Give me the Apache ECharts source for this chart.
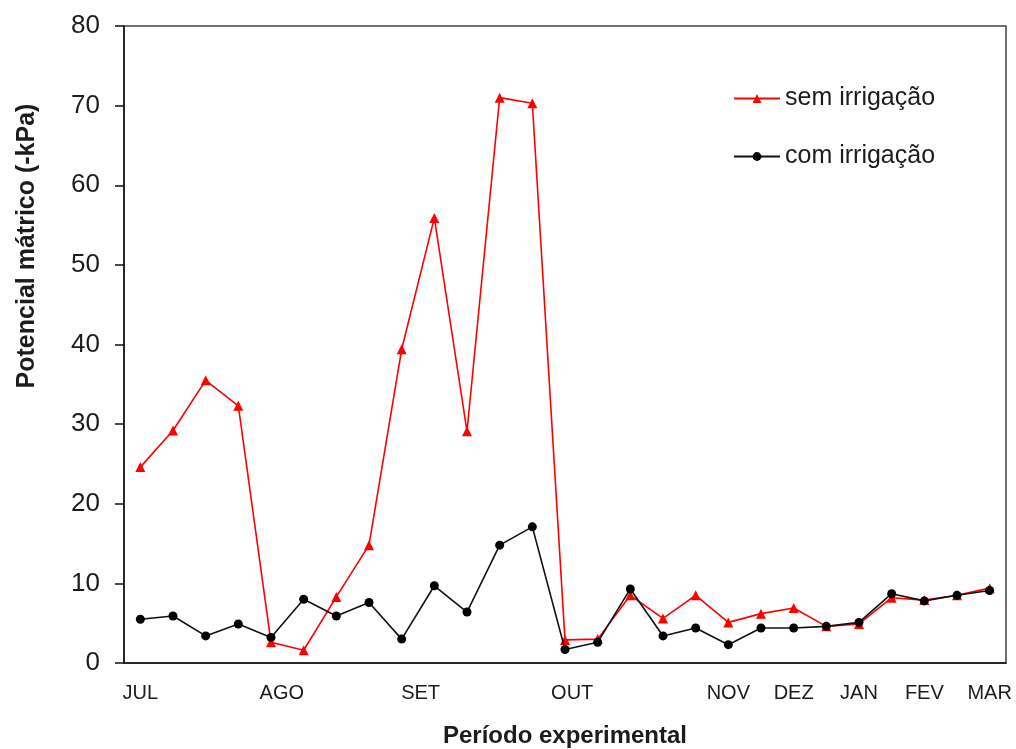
<!DOCTYPE html>
<html>
<head>
<meta charset="utf-8">
<script src="https://cdn.jsdelivr.net/npm/echarts@6/dist/echarts.min.js"></script>
<style>
  html, body { margin: 0; padding: 0; background: #fff; }
  #chart { width: 1016px; height: 749px; }
</style>
</head>
<body>
<div id="chart"></div>
<script>
// Soil matric potential (-kPa) over the experimental period, 27 readings
const semIrrigacao = [24.6, 29.2, 35.5, 32.3, 2.6, 1.6, 8.3, 14.8, 39.4, 55.9, 29.1, 71.0, 70.3,
  2.9, 3.0, 8.5, 5.6, 8.5, 5.1, 6.2, 6.9, 4.6, 4.9, 8.2, 7.9, 8.5, 9.4];
const comIrrigacao = [5.5, 5.9, 3.4, 4.9, 3.2, 8.0, 5.9, 7.6, 3.0, 9.7, 6.4, 14.8, 17.1,
  1.7, 2.6, 9.3, 3.4, 4.4, 2.3, 4.4, 4.4, 4.6, 5.1, 8.7, 7.8, 8.5, 9.1];

// Month labels and where they sit along the reading index
const monthLabels = ['JUL', 'AGO', 'SET', 'OUT', 'NOV', 'DEZ', 'JAN', 'FEV', 'MAR'];
const monthPos = [0, 4.33, 8.58, 13.22, 18, 20, 22, 24, 26];

const yTicks = [0, 10, 20, 30, 40, 50, 60, 70, 80];

const FONT = '"Liberation Sans", Arial, sans-serif';
const TXT = '#1c1c1c';

const toPairs = arr => arr.map((v, i) => [i, v]);

const chart = echarts.init(document.getElementById('chart'), null, { renderer: 'canvas' });

chart.setOption({
  backgroundColor: '#ffffff',
  animation: false,
  textStyle: { fontFamily: FONT },
  grid: {
    left: 124, right: 10, top: 26, bottom: 86,
    outerBoundsMode: 'none',
    containLabel: false,
    show: true, borderColor: '#444', borderWidth: 1.5, backgroundColor: 'transparent'
  },
  legend: {
    orient: 'vertical',
    left: 733, top: 86,
    padding: 0,
    itemWidth: 46, itemHeight: 11, itemGap: 33,
    textStyle: { fontSize: 25, color: TXT, fontFamily: FONT },
    data: ['sem irrigação', 'com irrigação']
  },
  xAxis: {
    type: 'value',
    min: -0.5, max: 26.5,
    name: 'Período experimental',
    nameLocation: 'middle',
    nameGap: 61,
    nameTextStyle: { fontSize: 24, fontWeight: 'bold', color: TXT, fontFamily: FONT },
    axisLine: { show: true, onZero: false, lineStyle: { color: '#111', width: 1.5 } },
    axisTick: { show: false },
    splitLine: { show: false },
    axisLabel: {
      customValues: monthPos,
      margin: 20,
      fontSize: 20,
      color: TXT,
      fontFamily: FONT,
      formatter: v => {
        const k = monthPos.findIndex(p => Math.abs(p - v) < 1e-6);
        return k >= 0 ? monthLabels[k] : '';
      }
    }
  },
  yAxis: {
    type: 'value',
    min: 0, max: 80, interval: 10,
    axisLine: { show: true, onZero: false, lineStyle: { color: '#111', width: 1.5 } },
    axisTick: { show: true, inside: false, length: 9, lineStyle: { color: '#111', width: 1.5 } },
    splitLine: { show: false },
    axisLabel: {
      margin: 24,
      fontSize: 26,
      color: TXT,
      fontFamily: FONT,
      formatter: v => (yTicks.includes(v) ? String(v) : '')
    }
  },
  graphic: [{
    type: 'text',
    x: 27, y: 246,
    rotation: Math.PI / 2,
    style: {
      text: 'Potencial mátrico (-kPa)',
      font: 'bold 25px ' + FONT,
      fill: TXT,
      textAlign: 'center',
      textVerticalAlign: 'middle'
    }
  }],
  series: [
    {
      name: 'sem irrigação',
      type: 'line',
      data: toPairs(semIrrigacao),
      symbol: 'triangle',
      symbolSize: 10,
      color: '#ff0000',
      itemStyle: { color: '#ff0000' },
      lineStyle: { color: '#ff0000', width: 1.6 },
      z: 2
    },
    {
      name: 'com irrigação',
      type: 'line',
      data: toPairs(comIrrigacao),
      symbol: 'circle',
      symbolSize: 9,
      color: '#000000',
      itemStyle: { color: '#000000' },
      lineStyle: { color: '#111111', width: 1.6 },
      z: 3
    }
  ]
});
</script>
</body>
</html>
